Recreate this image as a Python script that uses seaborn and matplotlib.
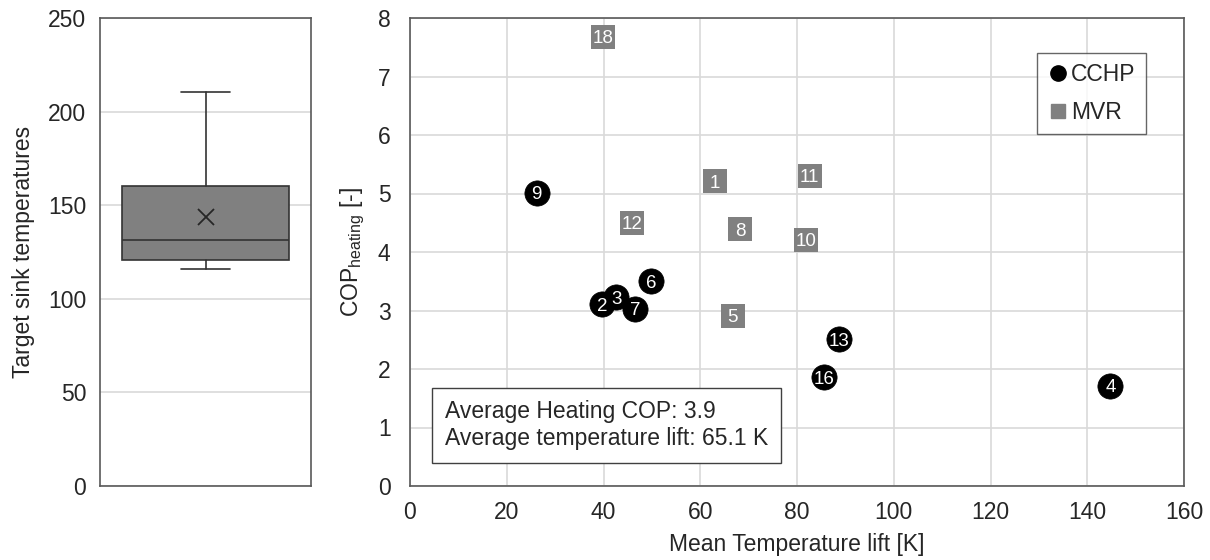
import matplotlib
matplotlib.use('Agg')
import matplotlib.pyplot as plt
from matplotlib.lines import Line2D
import seaborn as sns

# box plot statistics of target sink temperatures
sink_whislo = 116.0
sink_q1 = 120.7
sink_median = 131.4
sink_q3 = 160.3
sink_whishi = 210.5
sink_mean = 143.7

# compression heat pumps (CCHP)
cchp_id = [9, 2, 3, 7, 6, 13, 16, 4]
cchp_lift = [26.2, 39.7, 42.6, 46.5, 49.8, 88.6, 85.5, 144.8]
cchp_cop = [5.01, 3.11, 3.23, 3.03, 3.50, 2.51, 1.86, 1.71]

# mechanical vapour recompression (MVR)
mvr_id = [18, 1, 11, 12, 8, 10, 5]
mvr_lift = [39.9, 63.0, 82.6, 45.9, 68.2, 81.8, 66.7]
mvr_cop = [7.68, 5.21, 5.30, 4.50, 4.39, 4.21, 2.91]

sns.set_style('white')
plt.rcParams['font.family'] = ['Liberation Sans', 'DejaVu Sans']
plt.rcParams['mathtext.fontset'] = 'custom'
plt.rcParams['mathtext.rm'] = 'Liberation Sans'
plt.rcParams['mathtext.it'] = 'Liberation Sans:italic'

FS = 16.5
TXT = '#262626'
GRID = '#d9d9d9'
SPINE = '#595959'

fig = plt.figure(figsize=(12.1, 5.6), dpi=100)
ax0 = fig.add_axes([100 / 1210, 74 / 560, 211 / 1210, 468 / 560])
ax1 = fig.add_axes([410 / 1210, 74 / 560, 774 / 1210, 468 / 560])

# --- left: box plot
stats = [dict(whislo=sink_whislo, q1=sink_q1, med=sink_median, q3=sink_q3,
              whishi=sink_whishi, mean=sink_mean, fliers=[])]
ax0.bxp(stats, positions=[1], widths=0.79, showmeans=True, patch_artist=True,
        capwidths=0.23,
        boxprops=dict(facecolor='#808080', edgecolor='#333333', linewidth=1.2),
        medianprops=dict(color='#333333', linewidth=1.2),
        whiskerprops=dict(color='#333333', linewidth=1.2),
        capprops=dict(color='#333333', linewidth=1.2),
        meanprops=dict(marker='x', markeredgecolor='#262626', markersize=11,
                       markeredgewidth=1.3))
ax0.set_xlim(0.5, 1.5)
ax0.set_ylim(0, 250)
ax0.set_yticks(range(0, 251, 50))
ax0.set_xticks([])
ax0.yaxis.grid(True, color=GRID, linewidth=1.2)
ax0.set_axisbelow(True)
ax0.tick_params(axis='y', length=0, pad=10, labelsize=FS, labelcolor=TXT)
ax0.set_ylabel('Target sink temperatures', fontsize=FS, color=TXT, labelpad=9)

# --- right: scatter
sns.scatterplot(x=cchp_lift, y=cchp_cop, ax=ax1, marker='o', color='black',
                s=330, edgecolor='black', linewidth=0.5, zorder=3)
sns.scatterplot(x=mvr_lift, y=mvr_cop, ax=ax1, marker='s', color='#808080',
                s=300, edgecolor='#808080', linewidth=0, zorder=3)
for i, xv, yv in zip(cchp_id, cchp_lift, cchp_cop):
    ax1.text(xv, yv, str(i), color='white', fontsize=13.5, ha='center',
             va='center_baseline', zorder=4)
for i, xv, yv in zip(mvr_id, mvr_lift, mvr_cop):
    ax1.text(xv, yv, str(i), color='white', fontsize=13.5, ha='center',
             va='center_baseline', zorder=4)

ax1.set_xlim(0, 160)
ax1.set_ylim(0, 8)
ax1.set_xticks(range(0, 161, 20))
ax1.set_yticks(range(0, 9))
ax1.grid(True, color=GRID, linewidth=1.2)
ax1.set_axisbelow(True)
ax1.tick_params(length=0, labelsize=FS, labelcolor=TXT)
ax1.tick_params(axis='y', pad=14)
ax1.tick_params(axis='x', pad=11)
ax1.set_xlabel('Mean Temperature lift [K]', fontsize=FS, color=TXT, labelpad=6)
ax1.set_ylabel(r'COP$_{\mathrm{heating}}$ [-]', fontsize=FS, color=TXT, labelpad=8)

for ax in (ax0, ax1):
    for sp in ax.spines.values():
        sp.set_color(SPINE)
        sp.set_linewidth(1.2)

handles = [
    Line2D([], [], marker='o', color='black', linestyle='none', markersize=11),
    Line2D([], [], marker='s', color='#808080', linestyle='none', markersize=10),
]
leg = ax1.legend(handles, ['CCHP', 'MVR'], loc='upper right',
                 bbox_to_anchor=(0.951, 0.925), borderaxespad=0, fontsize=FS,
                 frameon=True, fancybox=False, edgecolor='#404040',
                 handletextpad=0.15, handlelength=0.9, borderpad=0.45,
                 labelspacing=0.62)
leg.get_frame().set_linewidth(1.0)
for t in leg.get_texts():
    t.set_color(TXT)

ax1.text(0.045, 0.077,
         'Average Heating COP: 3.9\nAverage temperature lift: 65.1 K',
         transform=ax1.transAxes, fontsize=FS, color=TXT, ha='left', va='bottom',
         bbox=dict(boxstyle='square,pad=0.55', facecolor='white',
                   edgecolor='#404040', linewidth=1.0), zorder=5)

fig.savefig('out.png', dpi=100)
